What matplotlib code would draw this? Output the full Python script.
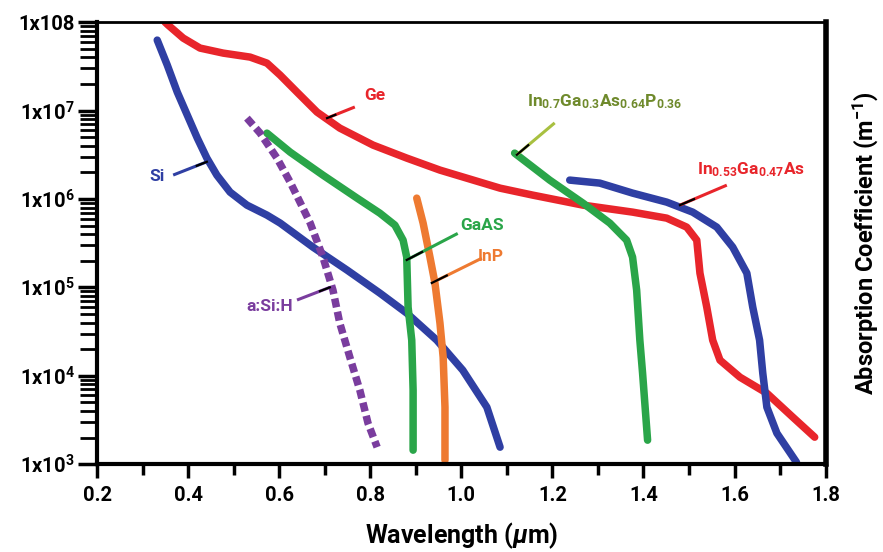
import matplotlib
matplotlib.use("Agg")
import matplotlib.pyplot as plt
from matplotlib.ticker import LogLocator, MultipleLocator, NullFormatter
import numpy as np

plt.rcParams['font.family'] = ['Roboto', 'DejaVu Sans']
plt.rcParams['font.weight'] = 'bold'
plt.rcParams['mathtext.fontset'] = 'custom'
plt.rcParams['mathtext.rm'] = 'Roboto:bold'
plt.rcParams['mathtext.bf'] = 'Roboto:bold'
plt.rcParams['mathtext.it'] = 'Roboto:bold:italic'

# ---- data (wavelength um, log10 absorption coefficient m^-1) ----
si_x = [0.332, 0.354, 0.376, 0.398, 0.420, 0.441, 0.463, 0.492, 0.529, 0.573, 0.602, 0.674, 0.749, 0.821, 0.880, 0.946, 1.003, 1.056, 1.085]
si_y = [7.796, 7.514, 7.208, 6.948, 6.688, 6.462, 6.269, 6.077, 5.930, 5.817, 5.727, 5.455, 5.195, 4.935, 4.709, 4.403, 4.064, 3.645, 3.193]

ge_x = [0.349, 0.356, 0.389, 0.426, 0.477, 0.536, 0.573, 0.602, 0.639, 0.683, 0.733, 0.806, 0.880, 0.953, 1.085, 1.157, 1.267, 1.376, 1.451, 1.495, 1.517, 1.524, 1.539, 1.552, 1.568, 1.612, 1.671, 1.728, 1.776]
ge_y = [8.000, 7.966, 7.819, 7.706, 7.649, 7.604, 7.536, 7.400, 7.208, 6.982, 6.801, 6.609, 6.462, 6.326, 6.122, 6.043, 5.930, 5.851, 5.783, 5.681, 5.534, 5.161, 4.776, 4.403, 4.177, 3.984, 3.803, 3.532, 3.306]

ingaas_x = [1.238, 1.304, 1.376, 1.451, 1.508, 1.561, 1.596, 1.627, 1.640, 1.655, 1.662, 1.671, 1.693, 1.736]
ingaas_y = [6.213, 6.179, 6.066, 5.964, 5.851, 5.681, 5.455, 5.161, 4.776, 4.403, 4.030, 3.645, 3.351, 3.023]

ingaasp_x = [1.117, 1.194, 1.267, 1.326, 1.363, 1.376, 1.385, 1.392, 1.398, 1.409]
ingaasp_y = [6.518, 6.213, 5.953, 5.727, 5.534, 5.342, 4.968, 4.403, 4.030, 3.272]

gaas_x = [0.573, 0.624, 0.696, 0.771, 0.821, 0.854, 0.872, 0.880, 0.883, 0.891, 0.894, 0.894]
gaas_y = [6.744, 6.529, 6.269, 6.009, 5.839, 5.704, 5.534, 5.342, 4.776, 4.403, 3.837, 3.159]

inp_x = [0.902, 0.916, 0.931, 0.942, 0.953, 0.960, 0.964, 0.964]
inp_y = [6.009, 5.726, 5.342, 5.048, 4.595, 4.211, 3.645, 3.046]

asih_x = [0.529, 0.558, 0.595, 0.624, 0.652, 0.668, 0.696, 0.718, 0.733, 0.755, 0.777, 0.795, 0.815]
asih_y = [6.914, 6.744, 6.462, 6.190, 5.896, 5.727, 5.342, 4.968, 4.595, 4.211, 3.837, 3.464, 3.193]

x_ticks = [0.2, 0.4, 0.6, 0.8, 1.0, 1.2, 1.4, 1.6, 1.8]
x_ticklabels = ['0.2', '0.4', '0.6', '0.8', '1.0', '1.2', '1.4', '1.6', '1.8']
y_ticks = [1e3, 1e4, 1e5, 1e6, 1e7, 1e8]
y_ticklabels = [r'1x10$^{3}$', r'1x10$^{4}$', r'1x10$^{5}$', r'1x10$^{6}$', r'1x10$^{7}$', '1x108']

RED = '#e8252b'
BLUE = '#2f3fa3'
GREEN = '#2aa549'
ORANGE = '#ee7a31'
PURPLE = '#7a3d9e'
OLIVE = '#6f8a2c'

fig = plt.figure(figsize=(8.83, 5.52), dpi=100)
ax = fig.add_axes([0.110, 0.159, 0.825, 0.801])
ax.set_yscale('log')
ax.set_xlim(0.2, 1.8)
ax.set_ylim(1e3, 1e8)

lw = 5.4
def p(x, y, c):
    ax.plot(x, 10 ** np.array(y), color=c, lw=lw, solid_capstyle='round', solid_joinstyle='round')

p(ge_x, ge_y, RED)
p(si_x, si_y, BLUE)
p(ingaas_x, ingaas_y, BLUE)
p(ingaasp_x, ingaasp_y, GREEN)
p(gaas_x, gaas_y, GREEN)
p(inp_x, inp_y, ORANGE)
ax.plot(asih_x, 10 ** np.array(asih_y), color=PURPLE, lw=lw, dashes=(1.2, 0.6), dash_capstyle='butt')

# labels with pointer lines: (text, text_xy, line_start(on curve), line_end, text color, line color, ha)
labels = [
    ('Si', (0.349, 10**6.25), (0.441, 10**6.42), (0.367, 10**6.27), BLUE, BLUE, 'right'),
    ('Ge', (0.786, 10**7.17), (0.705, 10**6.914), (0.766, 10**7.04), RED, RED, 'left'),
    (r'In$_{0.7}$Ga$_{0.3}$As$_{0.64}$P$_{0.36}$', (1.144, 10**7.10), (1.122, 10**6.50), (1.205, 10**6.86), OLIVE, '#a8c040', 'left'),
    (r'In$_{0.53}$Ga$_{0.47}$As', (1.517, 10**6.33), (1.480, 10**5.93), (1.583, 10**6.156), RED, RED, 'left'),
    ('GaAS', (0.997, 10**5.70), (0.880, 10**5.31), (0.992, 10**5.61), GREEN, GREEN, 'left'),
    ('InP', (1.036, 10**5.35), (0.935, 10**5.05), (1.045, 10**5.33), ORANGE, ORANGE, 'left'),
    ('a:Si:H', (0.630, 10**4.78), (0.711, 10**5.0), (0.639, 10**4.857), PURPLE, PURPLE, 'right'),
]
for txt, txy, a, b, c, lc, ha in labels:
    ax.plot([a[0], b[0]], [a[1], b[1]], color=lc, lw=2.2, solid_capstyle='butt')
    ax.plot([a[0], a[0] + (b[0] - a[0]) * 0.3], [a[1], a[1] * (b[1] / a[1]) ** 0.3], color='black', lw=1.6)
    ax.text(txy[0], txy[1], txt, color=c, fontsize=12.5, fontweight='bold', ha=ha, va='center')

ax.set_xticks(x_ticks)
ax.set_xticklabels(x_ticklabels)
ax.xaxis.set_minor_locator(MultipleLocator(0.1))
ax.set_yticks(y_ticks)
ax.set_yticklabels(y_ticklabels)
ax.yaxis.set_minor_locator(LogLocator(base=10, subs=np.arange(2, 10) * 1.0, numticks=20))
ax.yaxis.set_minor_formatter(NullFormatter())

ax.tick_params(axis='x', which='major', direction='out', length=10, width=2.5, labelsize=14.5, pad=6)
ax.tick_params(axis='x', which='minor', direction='out', length=8, width=2.5)
ax.tick_params(axis='y', which='major', direction='out', length=14, width=2.5, labelsize=14.5, pad=2)
ax.tick_params(axis='y', which='minor', direction='out', length=12, width=2)

for s in ['left', 'bottom']:
    ax.spines[s].set_linewidth(3)
ax.spines['right'].set_linewidth(4)
ax.spines['top'].set_linewidth(2)

ax.set_xlabel(r'Wavelength ($\mu$m)', fontsize=18, fontweight='bold', labelpad=11)
fig.text(0.980, 0.56, r'Absorption Coefficient (m$^{-1}$)', rotation=90, fontsize=17,
         fontweight='bold', ha='center', va='center')

fig.savefig('out.png', dpi=100)
